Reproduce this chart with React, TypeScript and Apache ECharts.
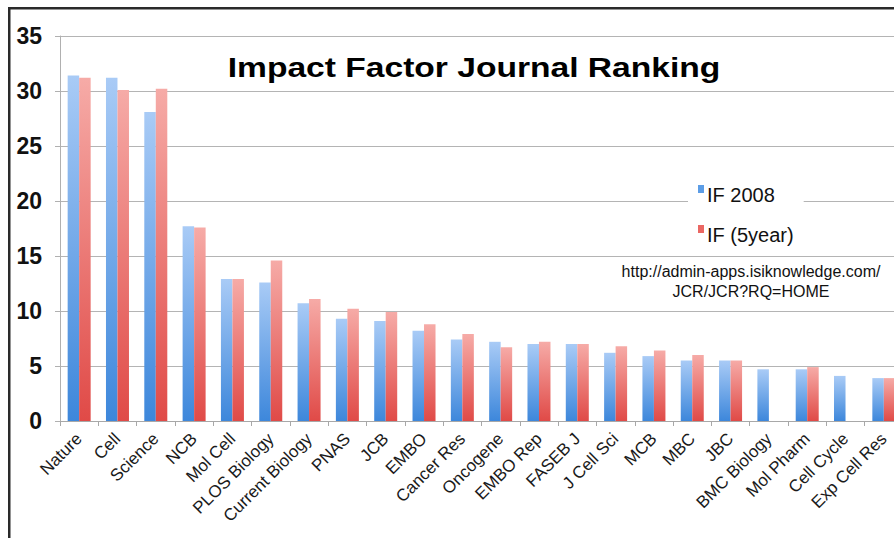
import React, { useEffect, useRef } from "react";
import * as echarts from "echarts";

const journals = [
  "Nature", "Cell", "Science", "NCB", "Mol Cell", "PLOS Biology", "Current Biology",
  "PNAS", "JCB", "EMBO", "Cancer Res", "Oncogene", "EMBO Rep", "FASEB J",
  "J Cell Sci", "MCB", "MBC", "JBC", "BMC Biology", "Mol Pharm", "Cell Cycle", "Exp Cell Res",
];
const if2008 = [31.4, 31.2, 28.1, 17.7, 12.9, 12.6, 10.7, 9.3, 9.1, 8.2, 7.4, 7.2, 7.0, 7.0, 6.2, 5.9, 5.5, 5.5, 4.7, 4.7, 4.1, 3.9];
const if5year: (number | null)[] = [31.2, 30.1, 30.2, 17.6, 12.9, 14.6, 11.1, 10.2, 9.9, 8.8, 7.9, 6.7, 7.2, 7.0, 6.8, 6.4, 6.0, 5.5, null, 4.9, null, 3.9];
const yTicks = { min: 0, max: 35, interval: 5 };
const seriesNames = ["IF 2008", "IF (5year)"];
const titleText = "Impact Factor Journal Ranking";
const sourceText = "http://admin-apps.isiknowledge.com/\nJCR/JCR?RQ=HOME";

const FONT = "'Liberation Sans', Arial, Helvetica, sans-serif";

export default function App() {
  const ref = useRef<HTMLDivElement>(null);
  useEffect(() => {
    if (!ref.current) return;
    const chart = echarts.init(ref.current, null, { renderer: "svg" });
    const blue = new echarts.graphic.LinearGradient(0, 0, 0, 1, [
      { offset: 0, color: "#a9cbf6" },
      { offset: 1, color: "#3d87db" },
    ]);
    const red = new echarts.graphic.LinearGradient(0, 0, 0, 1, [
      { offset: 0, color: "#f6aba7" },
      { offset: 1, color: "#e04a47" },
    ]);
    const legendIcon = "path://M0,0L6,0L6,8L0,8ZM0,20L0.01,20";
    chart.setOption({
      animation: false,
      backgroundColor: "#ffffff",
      grid: { left: 60, right: 1, top: 36, bottom: 117, containLabel: false },
      legend: {
        orient: "vertical",
        left: 688,
        top: 180,
        backgroundColor: "#ffffff",
        padding: [4, 10, 6, 10],
        itemWidth: 6,
        itemHeight: 20,
        itemGap: 18,
        icon: legendIcon,
        textStyle: { fontFamily: FONT, fontSize: 20, color: "#111", lineHeight: 22, padding: [0, 0, 0, -2] },
        data: seriesNames.map((n, i) => ({ name: n, icon: legendIcon, itemStyle: { color: i === 0 ? "#5c9de6" : "#ea6763" } })),
      },
      xAxis: {
        type: "category",
        data: journals,
        boundaryGap: true,
        axisLine: { show: true, lineStyle: { color: "#a8a8a8", width: 1 } },
        axisTick: { show: true, length: 5, inside: false, alignWithLabel: false, lineStyle: { color: "#a8a8a8" } },
        axisLabel: {
          interval: 0,
          rotate: 45,
          margin: 15,
          fontFamily: FONT,
          fontSize: 17,
          color: "#1a1a1a",
        },
      },
      yAxis: {
        type: "value",
        min: yTicks.min,
        max: yTicks.max,
        interval: yTicks.interval,
        axisLine: { show: true, lineStyle: { color: "#b0b0b0", width: 1 } },
        axisTick: { show: true, length: 5, inside: false, lineStyle: { color: "#b0b0b0" } },
        splitLine: { show: true, lineStyle: { color: "#b4b4b4", width: 1 } },
        axisLabel: {
          margin: 18,
          fontFamily: FONT,
          fontSize: 23,
          fontWeight: "bold",
          color: "#111",
        },
      },
      series: [
        {
          name: seriesNames[0],
          type: "bar",
          data: if2008,
          barWidth: 11.5,
          barGap: "0%",
          itemStyle: { color: blue },
        },
        {
          name: seriesNames[1],
          type: "bar",
          data: if5year.map((v) => (v === null ? "-" : v)),
          barWidth: 11.5,
          itemStyle: { color: red },
        },
      ],
      graphic: [
        {
          type: "text",
          x: 474,
          y: 67,
          scaleX: 1.2,
          originX: 0,
          style: {
            text: titleText,
            fontFamily: FONT,
            fontSize: 28,
            fontWeight: "bold",
            fill: "#000",
            textAlign: "center",
            textVerticalAlign: "middle",
          },
        },
        {
          type: "text",
          x: 751,
          y: 261,
          style: {
            text: sourceText,
            fontFamily: FONT,
            fontSize: 16,
            lineHeight: 20,
            fill: "#111",
            textAlign: "center",
            textVerticalAlign: "top",
          },
        },
        {
          type: "rect",
          shape: { x: 8, y: 7, width: 900, height: 2.5 },
          style: { fill: "#2a2a2a" },
          z: 100,
        },
        {
          type: "rect",
          shape: { x: 8, y: 7, width: 2.5, height: 540 },
          style: { fill: "#2a2a2a" },
          z: 100,
        },
      ],
    });
    return () => chart.dispose();
  }, []);
  return (
    <div style={{ position: "fixed", left: 0, top: 0, width: 894, height: 538, overflow: "hidden", background: "#fff" }}>
      <div ref={ref} style={{ width: 904, height: 538 }} />
    </div>
  );
}
